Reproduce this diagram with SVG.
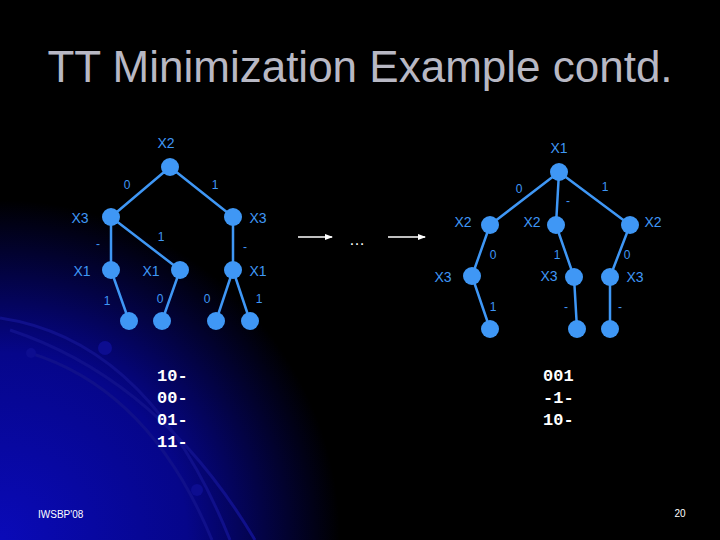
<svg xmlns="http://www.w3.org/2000/svg" width="720" height="540" viewBox="0 0 720 540">
<defs>
<radialGradient id="bg" cx="0" cy="540" r="340" gradientUnits="userSpaceOnUse">
<stop offset="0" stop-color="#0a0ab8"/><stop offset="0.55" stop-color="#06068a"/><stop offset="1" stop-color="#000"/>
</radialGradient>
<marker id="ah" markerWidth="8" markerHeight="8" refX="7" refY="4" orient="auto" markerUnits="userSpaceOnUse"><path d="M0,1 L8,4 L0,7 Z" fill="#fff"/></marker>
<style>
.n{fill:#3f97f5}
.e{stroke:#3f97f5;stroke-width:2.5;fill:none}
.l{font-family:"Liberation Sans",Arial,sans-serif;font-size:14px;fill:#3f97f5;text-anchor:middle}
.s{font-size:12px}
.m{font-family:"Liberation Mono","DejaVu Sans Mono",monospace;font-size:17px;font-weight:bold;fill:#fff}
.arc{stroke:#10108a;stroke-width:3;fill:none}
</style>
</defs>
<rect width="720" height="540" fill="#000"/>
<rect width="720" height="540" fill="url(#bg)"/>
<path class="arc" d="M0,318 Q150,340 230,540"/>
<path class="arc" d="M10,330 Q160,380 255,540"/>
<path class="arc" d="M30,353 Q150,390 212,540"/>
<circle cx="105" cy="348" r="7" fill="#0d0d90"/>
<circle cx="31" cy="353" r="5" fill="#0d0d90"/>
<circle cx="197" cy="490" r="6" fill="#0d0d90"/>
<text x="360" y="82" font-family="Liberation Sans,Arial,sans-serif" font-size="44" fill="#b8b8c4" text-anchor="middle">TT Minimization Example contd.</text>
<g id="connectors">
<path class="e" d="M170,167 L111,217 M170,167 L233,217 M111,217 L111,270 M111,217 L180,270 M233,217 L233,270 M111,270 L129,321 M180,270 L162,321 M233,270 L216,321 M233,270 L250,321"/>
<path class="e" d="M559,172 L490,225 M559,172 L556,225 M559,172 L630,225 M490,225 L472,276 M556,225 L574,277 M630,225 L610,277 M472,276 L490,329 M574,277 L577,329 M610,277 L610,329"/>
<line x1="298" y1="237" x2="332" y2="237" stroke="#fff" stroke-width="1.5" marker-end="url(#ah)"/>
<line x1="388" y1="237" x2="425" y2="237" stroke="#fff" stroke-width="1.5" marker-end="url(#ah)"/>
</g>
<g id="left-tree">
<g id="L-root"><circle class="n" cx="170" cy="167" r="9"/><text class="l" x="166" y="148">X2</text></g>
<g id="L-x3a"><circle class="n" cx="111" cy="217" r="9"/><text class="l" x="80" y="223">X3</text></g>
<g id="L-x3b"><circle class="n" cx="233" cy="217" r="9"/><text class="l" x="258" y="223">X3</text></g>
<g id="L-x1a"><circle class="n" cx="111" cy="270" r="9"/><text class="l" x="82" y="276">X1</text></g>
<g id="L-x1b"><circle class="n" cx="180" cy="270" r="9"/><text class="l" x="151" y="276">X1</text></g>
<g id="L-x1c"><circle class="n" cx="233" cy="270" r="9"/><text class="l" x="258" y="276">X1</text></g>
<g id="L-leaf1"><circle class="n" cx="129" cy="321" r="9"/></g>
<g id="L-leaf2"><circle class="n" cx="162" cy="321" r="9"/></g>
<g id="L-leaf3"><circle class="n" cx="216" cy="321" r="9"/></g>
<g id="L-leaf4"><circle class="n" cx="250" cy="321" r="9"/></g>
<text class="l s" x="127" y="189">0</text><text class="l s" x="215" y="189">1</text>
<text class="l s" x="98" y="248">-</text><text class="l s" x="161" y="241">1</text><text class="l s" x="245" y="251">-</text>
<text class="l s" x="107" y="305">1</text><text class="l s" x="160" y="303">0</text><text class="l s" x="207" y="303">0</text><text class="l s" x="259" y="303">1</text>
</g>
<text x="357" y="245" fill="#fff" font-family="Liberation Sans,Arial,sans-serif" font-size="16" text-anchor="middle">…</text>
<g id="right-tree">
<g id="R-root"><circle class="n" cx="559" cy="172" r="9"/><text class="l" x="559" y="153">X1</text></g>
<g id="R-x2a"><circle class="n" cx="490" cy="225" r="9"/><text class="l" x="463" y="227">X2</text></g>
<g id="R-x2b"><circle class="n" cx="556" cy="225" r="9"/><text class="l" x="532" y="227">X2</text></g>
<g id="R-x2c"><circle class="n" cx="630" cy="225" r="9"/><text class="l" x="653" y="227">X2</text></g>
<g id="R-x3a"><circle class="n" cx="472" cy="276" r="9"/><text class="l" x="443" y="282">X3</text></g>
<g id="R-x3b"><circle class="n" cx="574" cy="277" r="9"/><text class="l" x="549" y="281">X3</text></g>
<g id="R-x3c"><circle class="n" cx="610" cy="277" r="9"/><text class="l" x="635" y="282">X3</text></g>
<g id="R-leaf1"><circle class="n" cx="490" cy="329" r="9"/></g>
<g id="R-leaf2"><circle class="n" cx="577" cy="329" r="9"/></g>
<g id="R-leaf3"><circle class="n" cx="610" cy="329" r="9"/></g>
<text class="l s" x="519" y="193">0</text><text class="l s" x="568" y="205">-</text><text class="l s" x="605" y="191">1</text>
<text class="l s" x="493" y="259">0</text><text class="l s" x="557" y="259">1</text><text class="l s" x="627" y="259">0</text>
<text class="l s" x="493" y="311">1</text><text class="l s" x="566" y="311">-</text><text class="l s" x="620" y="311">-</text>
</g>
<text class="m" x="157" y="381">10-</text><text class="m" x="157" y="403">00-</text><text class="m" x="157" y="425">01-</text><text class="m" x="157" y="447">11-</text>
<text class="m" x="543" y="381">001</text><text class="m" x="543" y="403">-1-</text><text class="m" x="543" y="425">10-</text>
<text x="38" y="518" fill="#fff" font-family="Liberation Sans,Arial,sans-serif" font-size="10">IWSBP'08</text>
<text x="680" y="517" fill="#fff" font-family="Liberation Sans,Arial,sans-serif" font-size="10" text-anchor="middle">20</text>
</svg>
